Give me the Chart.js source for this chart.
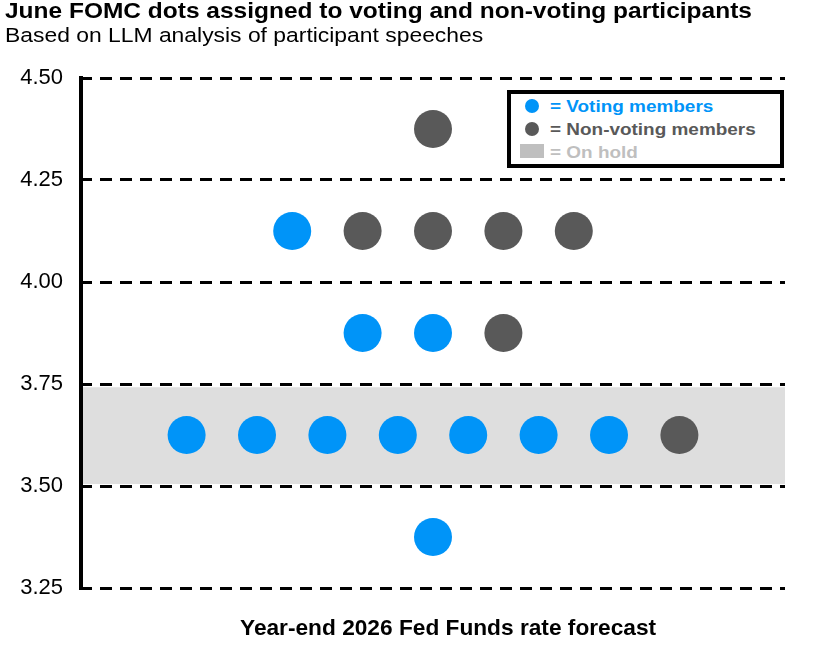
<!DOCTYPE html>
<html><head><meta charset="utf-8">
<script src="https://cdn.jsdelivr.net/npm/chart.js@4/dist/chart.umd.min.js"></script>
<style>
html,body{margin:0;padding:0;background:#fff;}
#wrap{position:relative;width:819px;height:658px;font-family:"Liberation Sans",Arial,sans-serif;color:#000;overflow:hidden;}
#c{position:absolute;left:0;top:0;}
#title{position:absolute;left:5px;top:1px;font-weight:bold;font-size:21.5px;line-height:21.5px;white-space:nowrap;transform:scaleX(1.139);transform-origin:0 0;}
#sub{position:absolute;left:5px;top:25px;font-size:20.5px;line-height:20.5px;white-space:nowrap;transform:scaleX(1.116);transform-origin:0 0;}
#xtitle{position:absolute;left:240px;width:400px;top:616px;text-align:center;font-weight:bold;font-size:22.7px;line-height:22.7px;white-space:nowrap;}
#legend{position:absolute;left:507px;top:90px;width:269px;height:70px;border:4px solid #000;background:#fff;font-weight:bold;font-size:17px;}
.dot{position:absolute;left:14px;width:14px;height:14px;border-radius:50%;}
.sq{position:absolute;left:9px;top:50px;width:24px;height:13.5px;background:#BFBFBF;}
.txt{position:absolute;left:39px;line-height:17px;white-space:nowrap;transform:scaleX(1.114);transform-origin:0 0;}
</style></head>
<body>
<div id="wrap">
<canvas id="c" width="819" height="658"></canvas>
<div id="title">June FOMC dots assigned to voting and non-voting participants</div>
<div id="sub">Based on LLM analysis of participant speeches</div>
<div id="xtitle"></div>
<div id="legend">
  <div class="dot" style="top:4.5px;background:#0094F8"></div><span class="txt" style="top:3.6px;color:#0094F8">= Voting members</span>
  <div class="dot" style="top:27.5px;background:#595959"></div><span class="txt" style="top:27px;color:#595959">= Non-voting members</span>
  <div class="sq"></div><span class="txt" style="top:50px;color:#BFBFBF">= On hold</span>
</div>
</div>
<script>
// Rate levels (year-end 2026 forecast) and how many dots at each level
const rateLevels      = [4.375, 4.125, 3.875, 3.625, 3.375];
const votingCounts    = [0, 1, 2, 7, 1];
const nonVotingCounts = [1, 4, 1, 1, 0];
const yTickValues     = [3.25, 3.50, 3.75, 4.00, 4.25, 4.50];
const holdRange       = [3.505, 3.742];
const xTitle = 'Year-end 2026 Fed Funds rate forecast';
const CENTER = 5;

document.getElementById('xtitle').textContent = xTitle;

const votingPts = [], nonVotingPts = [];
rateLevels.forEach((r, i) => {
  const n = votingCounts[i] + nonVotingCounts[i];
  for (let k = 0; k < n; k++) {
    const pt = {x: CENTER + (k - (n - 1) / 2), y: r};
    (k < votingCounts[i] ? votingPts : nonVotingPts).push(pt);
  }
});

const bandPlugin = {
  id: 'band',
  beforeDraw(chart) {
    const {ctx, chartArea, scales} = chart;
    const y1 = scales.y.getPixelForValue(holdRange[1]);
    const y0 = scales.y.getPixelForValue(holdRange[0]);
    ctx.save();
    ctx.fillStyle = '#DEDEDE';
    ctx.fillRect(chartArea.left, y1, chartArea.right - chartArea.left, y0 - y1);
    ctx.restore();
  }
};

Chart.defaults.font.family = '"Liberation Sans", Arial, sans-serif';
new Chart(document.getElementById('c'), {
  type: 'scatter',
  data: {
    datasets: [
      {label: 'Voting members', data: votingPts, backgroundColor: '#0094F8', borderWidth: 0, pointRadius: 19, pointHoverRadius: 19},
      {label: 'Non-voting members', data: nonVotingPts, backgroundColor: '#595959', borderWidth: 0, pointRadius: 19, pointHoverRadius: 19}
    ]
  },
  options: {
    responsive: false,
    animation: false,
    events: [],
    layout: {padding: {top: 78, right: 34, bottom: 0, left: 0}},
    plugins: {legend: {display: false}, tooltip: {enabled: false}, title: {display: false}},
    scales: {
      x: {
        type: 'linear', min: 0, max: 10,
        ticks: {display: false},
        grid: {display: false, drawTicks: false},
        border: {display: false},
        title: {display: false},
        afterFit(s) { s.height = 70; }
      },
      y: {
        type: 'linear', min: 3.25, max: 4.5,
        afterBuildTicks(s) { s.ticks = yTickValues.map(v => ({value: v})); },
        ticks: {color: '#000', font: {size: 22}, padding: 18, callback: v => v.toFixed(2)},
        grid: {color: '#000', lineWidth: 3, drawTicks: false},
        border: {display: true, color: '#000', width: 4, dash: [12, 8], dashOffset: 3},
        afterFit(s) { s.width = 81; }
      }
    }
  },
  plugins: [bandPlugin]
});
</script>
</body></html>
